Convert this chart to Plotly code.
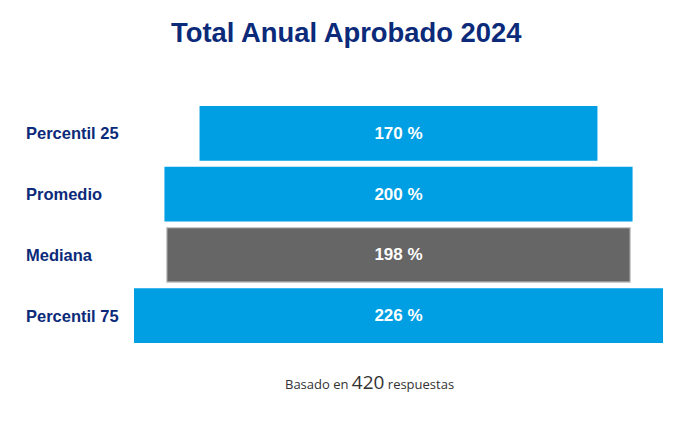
import plotly.graph_objects as go

categories = ["Percentil 25", "Promedio", "Mediana", "Percentil 75"]
values = [170, 200, 198, 226]
bar_colors = ["#009FE3", "#009FE3", "#666666", "#009FE3"]
title_text = "Total Anual Aprobado 2024"
n_respuestas = 420

navy = "#0B2A7A"

fig = go.Figure(go.Funnel(
    y=categories,
    x=values,
    texttemplate="%{x} %",
    textposition="inside",
    insidetextanchor="middle",
    textfont=dict(family="Arial, Liberation Sans", size=17, color="white", weight="bold"),
    marker=dict(color=bar_colors, line=dict(width=[0, 0, 1.2, 0], color="#C8C8C8")),
    connector=dict(visible=False),
    hoverinfo="skip",
))

for cat in categories:
    fig.add_annotation(
        x=-0.208, xref="paper", y=cat, yref="y",
        text=f"<b>{cat}</b>", showarrow=False, xanchor="left",
        font=dict(family="Arial, Liberation Sans", size=16.5, color=navy),
    )

fig.add_annotation(
    x=0.446, xref="paper", y=-0.148, yref="paper",
    text=f"<span style='font-size:13px'>Basado en </span><span style='font-size:19px'>{n_respuestas}</span><span style='font-size:13px'> respuestas</span>",
    showarrow=False, xanchor="center", yanchor="middle",
    font=dict(family="Open Sans, Noto Sans", color="#333333"),
)

fig.update_layout(
    width=696, height=435,
    paper_bgcolor="white", plot_bgcolor="white",
    margin=dict(l=126, r=41, t=95, b=97),
    title=dict(text=f"<b>{title_text}</b>", x=0.486, xanchor="center", y=0.945, yanchor="middle",
               font=dict(family="Arial, Liberation Sans", size=27.4, color=navy)),
    xaxis=dict(visible=False, range=[-113, 113]),
    yaxis=dict(showticklabels=False, showgrid=False, zeroline=False),
    funnelgap=0.1,
    showlegend=False,
)

fig.write_html("out.html")
